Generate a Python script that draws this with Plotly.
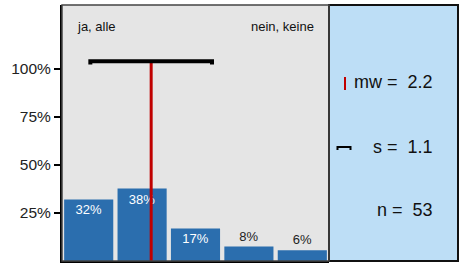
import plotly.graph_objects as go

categories = [1, 2, 3, 4, 5]
counts = [17, 20, 9, 4, 3]
n_total = sum(counts)
shares = [c / n_total for c in counts]
bar_labels = [f"{round(s * 100)}%" for s in shares]
y_tick_vals = [0.25, 0.5, 0.75, 1.0]
y_tick_text = ["25%", "50%", "75%", "100%"]
left_label = "ja, alle"
right_label = "nein, keine"

mean = sum(k * c for k, c in zip(categories, counts)) / n_total
var = sum(c * (k - mean) ** 2 for k, c in zip(categories, counts)) / (n_total - 1)
sd = var ** 0.5

FONT = "Liberation Sans, Arial, sans-serif"
BAR_COLOR = "#2b6eae"
W, H = 463, 264
L, R, T, B = 62, 5, 5, 3
PW = W - L - R
PH = H - T - B
split = (329 - L) / PW


def px(p):
    return (p - L) / PW


def py(p):
    return (H - B - p) / PH


fig = go.Figure()
fig.add_trace(go.Bar(
    x=categories, y=shares, marker_color=BAR_COLOR, marker_line_width=0,
    text=bar_labels,
    textposition=["inside", "inside", "inside", "outside", "outside"],
    insidetextanchor="end",
    textfont=dict(family=FONT, size=13, color=["white", "white", "white", "#222", "#222"]),
    cliponaxis=False, hoverinfo="skip",
))
# mean line
fig.add_trace(go.Scatter(
    x=[mean, mean], y=[0, 1.04], mode="lines",
    line=dict(color="#c00000", width=3), hoverinfo="skip",
))
# sd bar
cap = 0.016
fig.add_trace(go.Scatter(
    x=[mean - sd, mean - sd, mean + sd, mean + sd],
    y=[1.04 - cap, 1.04, 1.04, 1.04 - cap], mode="lines",
    line=dict(color="black", width=4), hoverinfo="skip",
))

shapes = [
    dict(type="rect", xref="paper", yref="paper", x0=split, x1=1, y0=0, y1=1,
         fillcolor="#bddef6", line=dict(color="#111", width=2), layer="below"),
    dict(type="rect", xref="paper", yref="paper", x0=0, x1=split, y0=0, y1=1,
         fillcolor="rgba(0,0,0,0)", line=dict(color="#444", width=1.5)),
    dict(type="line", xref="paper", yref="paper", x0=px(345), x1=px(345),
         y0=py(90), y1=py(77), line=dict(color="#c00000", width=2)),
    dict(type="path", xref="paper", yref="paper",
         path=f"M {px(337.5)} {py(150)} L {px(337.5)} {py(147)} L {px(350.5)} {py(147)} L {px(350.5)} {py(150)}",
         line=dict(color="black", width=2)),
]

stat_font = dict(family=FONT, size=18, color="#111")
annotations = [
    dict(xref="paper", yref="paper", x=px(75), y=py(26), text=left_label,
         showarrow=False, xanchor="left", yanchor="middle",
         font=dict(family=FONT, size=13, color="#111")),
    dict(xref="paper", yref="paper", x=px(316), y=py(26), text=right_label,
         showarrow=False, xanchor="right", yanchor="middle",
         font=dict(family=FONT, size=13, color="#111")),
    dict(xref="paper", yref="paper", x=px(435), y=py(82), text=f"mw =&nbsp; {mean:.1f}",
         showarrow=False, xanchor="right", yanchor="middle", font=stat_font),
    dict(xref="paper", yref="paper", x=px(435), y=py(147), text=f"s =&nbsp; {sd:.1f}",
         showarrow=False, xanchor="right", yanchor="middle", font=stat_font),
    dict(xref="paper", yref="paper", x=px(435), y=py(210), text=f"n =&nbsp; {n_total}",
         showarrow=False, xanchor="right", yanchor="middle", font=stat_font),
]

fig.update_layout(
    width=W, height=H, margin=dict(l=L, r=R, t=T, b=B),
    paper_bgcolor="white", plot_bgcolor="#e5e5e5",
    showlegend=False, bargap=0.08,
    shapes=shapes, annotations=annotations,
    xaxis=dict(domain=[0, split], range=[0.5, 5.5], showticklabels=False,
               ticks="", showgrid=False, zeroline=False,
               showline=True, linecolor="black", linewidth=2, fixedrange=True),
    yaxis=dict(range=[0, 256 / 192], tickvals=y_tick_vals, ticktext=y_tick_text,
               ticks="outside", ticklen=6, tickwidth=2, tickcolor="black",
               tickfont=dict(family=FONT, size=15.5, color="#222"),
               showgrid=False, zeroline=False,
               showline=True, linecolor="black", linewidth=2, fixedrange=True),
)

fig.write_html("out.html", config={"displayModeBar": False},
               post_script="document.body.style.margin='0';")
